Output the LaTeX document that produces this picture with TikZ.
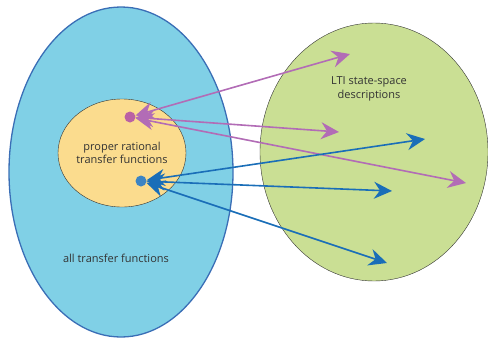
\documentclass[tikz,border=0pt]{standalone}
\usepackage{fontspec}
\setmainfont{Open Sans}
\usetikzlibrary{arrows.meta,shapes.geometric}
\definecolor{allblue}{RGB}{128,208,230}
\definecolor{alledge}{RGB}{58,110,182}
\definecolor{propyellow}{RGB}{251,220,142}
\definecolor{ltigreen}{RGB}{202,223,148}
\definecolor{mapviolet}{RGB}{178,108,182}
\definecolor{mapblue}{RGB}{26,110,184}
\begin{document}
\begin{tikzpicture}[x=1pt,y=-1pt,
	set/.style={ellipse,inner sep=0pt},
	set label/.style={font=\fontsize{11}{13.5}\selectfont,text=black!80,align=center},
	dot/.style={circle,inner sep=0pt,minimum size=11pt},
	map/.style={line width=1.6pt,{Stealth[length=18pt,width=17pt,inset=6pt]}-{Stealth[length=18pt,width=17pt,inset=6pt]}}]
	\useasboundingbox (0,0) rectangle (488,338);

	% sets
	\node[set, draw=alledge, line width=1.3pt, fill=allblue, minimum width=224pt, minimum height=330pt] (all) at (121,172) {};
	\node[set, draw=black!80, fill=ltigreen, minimum width=228pt, minimum height=258pt] (lti) at (374,152) {};
	\node[set, draw=black!80, fill=propyellow, minimum width=128pt, minimum height=108pt] (proper) at (122,153) {};

	% labels
	\node[set label] at (122,153) {proper rational\\transfer functions};
	\node[set label] at (116,258) {all transfer functions};
	\node[set label] at (369,89) {LTI state-space\\descriptions};

	% points
	\node[dot, fill=mapviolet!90!red] (pdot) at (130,117) {};
	\node[dot, fill=mapblue!85!white] (bdot) at (141,181) {};

	% images in the state-space set
	\foreach \name/\x/\y in {p1/350/54, p2/339/132, p3/466/183}
		\coordinate (\name) at (\x,\y);
	\foreach \name/\x/\y in {b1/425/139, b2/392/191, b3/387/263}
		\coordinate (\name) at (\x,\y);

	% mappings
	\foreach \target in {p1, p2, p3}
		\draw[map, mapviolet] (pdot) -- (\target);
	\foreach \target in {b1, b2, b3}
		\draw[map, mapblue] (bdot) -- (\target);
\end{tikzpicture}
\end{document}
